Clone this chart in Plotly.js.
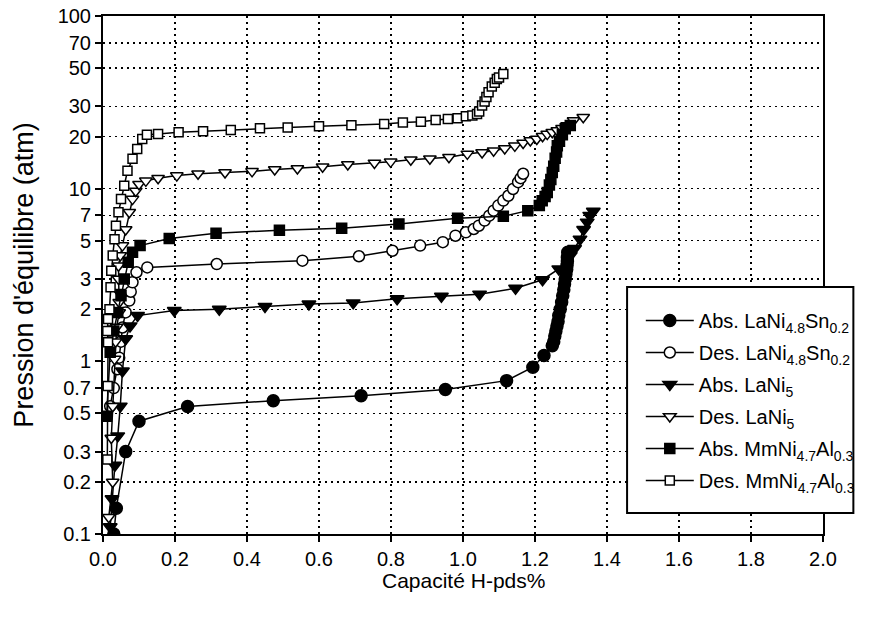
<!DOCTYPE html>
<html>
<head>
<meta charset="utf-8">
<script src="https://cdn.plot.ly/plotly-3.0.1.min.js"></script>
<style>html,body{margin:0;padding:0;background:#fff;}#chart{width:872px;height:622px;}</style>
</head>
<body>
<div id="chart"></div>
<script>
// Series names
const names = [
  'Abs. LaNi<sub>4.8</sub>Sn<sub>0.2</sub>',
  'Des. LaNi<sub>4.8</sub>Sn<sub>0.2</sub>',
  'Abs. LaNi<sub>5</sub>',
  'Des. LaNi<sub>5</sub>',
  'Abs. MmNi<sub>4.7</sub>Al<sub>0.3</sub>',
  'Des. MmNi<sub>4.7</sub>Al<sub>0.3</sub>'
];

// Abs. LaNi4.8Sn0.2
const absSn_x = [0.03, 0.037, 0.063, 0.10, 0.235, 0.473, 0.717, 0.951, 1.121, 1.194, 1.225, 1.248, 1.252, 1.255, 1.258, 1.261, 1.264, 1.266, 1.27, 1.274, 1.277, 1.28, 1.282, 1.284, 1.286, 1.288, 1.289, 1.29, 1.29, 1.291];
const absSn_y = [0.10, 0.141, 0.30, 0.45, 0.547, 0.592, 0.632, 0.686, 0.773, 0.925, 1.08, 1.23, 1.3, 1.4, 1.5, 1.6, 1.7, 1.84, 2.0, 2.2, 2.4, 2.6, 2.8, 3.0, 3.2, 3.4, 3.6, 3.8, 4.0, 4.28];

// Des. LaNi4.8Sn0.2
const desSn_x = [0.02, 0.03, 0.04, 0.045, 0.05, 0.054, 0.063, 0.073, 0.077, 0.082, 0.093, 0.123, 0.316, 0.554, 0.711, 0.804, 0.881, 0.944, 0.979, 1.008, 1.030, 1.044, 1.06, 1.073, 1.085, 1.098, 1.112, 1.126, 1.139, 1.153, 1.160, 1.167];
const desSn_y = [0.55, 0.7, 0.9, 1.05, 1.3, 1.57, 1.92, 2.25, 2.53, 2.87, 3.28, 3.5, 3.66, 3.83, 4.06, 4.37, 4.68, 4.9, 5.34, 5.59, 5.84, 6.1, 6.53, 6.98, 7.46, 7.98, 8.53, 9.1, 9.96, 10.9, 11.5, 12.2];

// Abs. LaNi5
const absLa5_x = [0.02, 0.025, 0.033, 0.041, 0.048, 0.054, 0.063, 0.075, 0.096, 0.198, 0.323, 0.45, 0.572, 0.695, 0.817, 0.94, 1.046, 1.146, 1.221, 1.266, 1.298, 1.31, 1.325, 1.335, 1.345, 1.352, 1.362];
const absLa5_y = [0.11, 0.16, 0.25, 0.37, 0.55, 0.88, 1.35, 1.6, 1.84, 1.97, 2.0, 2.08, 2.15, 2.18, 2.30, 2.38, 2.45, 2.65, 2.97, 3.43, 4.1, 4.5, 5.1, 5.8, 6.4, 7.0, 7.4];

// Des. LaNi5
const desLa5_x = [0.016, 0.027, 0.023, 0.027, 0.032, 0.035, 0.038, 0.045, 0.045, 0.045, 0.043, 0.043, 0.048, 0.054, 0.063, 0.073, 0.082, 0.091, 0.1, 0.119, 0.153, 0.205, 0.264, 0.339, 0.414, 0.477, 0.54, 0.61, 0.68, 0.754, 0.799, 0.855, 0.908, 0.961, 1.012, 1.053, 1.085, 1.116, 1.144, 1.167, 1.187, 1.205, 1.221, 1.234, 1.248, 1.262, 1.275, 1.289, 1.307, 1.334];
const desLa5_y = [0.125, 0.20, 0.36, 0.55, 1.03, 1.3, 1.58, 1.92, 2.2, 2.51, 3.0, 3.58, 4.1, 4.68, 5.8, 7.3, 8.7, 9.7, 10.6, 11.1, 11.5, 11.9, 12.2, 12.4, 12.6, 12.9, 13.1, 13.4, 13.8, 14.1, 14.3, 14.7, 14.9, 15.2, 15.9, 16.2, 16.6, 17.1, 17.7, 18.4, 19.0, 19.4, 20.1, 20.7, 21.2, 21.7, 22.4, 23.2, 24.8, 25.9];

// Abs. MmNi4.7Al0.3
const absMm_x = [0.01, 0.02, 0.03, 0.041, 0.05, 0.059, 0.07, 0.082, 0.103, 0.184, 0.314, 0.49, 0.663, 0.822, 0.985, 1.112, 1.18, 1.212, 1.22, 1.228, 1.234, 1.24, 1.244, 1.248, 1.252, 1.256, 1.26, 1.262, 1.268, 1.276, 1.284, 1.298];
const absMm_y = [0.48, 1.13, 1.5, 1.92, 2.4, 3.0, 3.75, 4.28, 4.68, 5.15, 5.52, 5.75, 5.9, 6.25, 6.73, 6.92, 7.46, 7.98, 8.5, 9.0, 9.5, 10.5, 11.3, 12.4, 13.5, 15.0, 16.3, 17.7, 18.8, 20.5, 22.2, 23.2];

// Des. MmNi4.7Al0.3
const desMm_x = [0.012, 0.013, 0.014, 0.012, 0.014, 0.018, 0.021, 0.023, 0.027, 0.032, 0.036, 0.043, 0.05, 0.059, 0.068, 0.082, 0.095, 0.109, 0.122, 0.153, 0.21, 0.278, 0.355, 0.436, 0.513, 0.60, 0.69, 0.781, 0.833, 0.883, 0.924, 0.958, 0.985, 1.008, 1.026, 1.039, 1.045, 1.053, 1.06, 1.065, 1.071, 1.08, 1.088, 1.094, 1.10, 1.112];
const desMm_y = [0.27, 0.72, 1.29, 1.5, 1.76, 2.0, 2.69, 3.35, 4.1, 5.1, 6.1, 7.3, 8.7, 10.4, 12.7, 14.9, 17.0, 19.4, 20.5, 20.7, 21.2, 21.5, 21.9, 22.4, 22.6, 23.0, 23.3, 23.7, 24.2, 24.4, 25.0, 25.3, 25.6, 26.3, 26.5, 27.1, 28.0, 30.3, 32.0, 34.0, 36.2, 39.0, 41.0, 43.2, 44.0, 46.1];

// Axis ticks
const xTicks = [0.0, 0.2, 0.4, 0.6, 0.8, 1.0, 1.2, 1.4, 1.6, 1.8, 2.0];
const yTicks = [0.1, 0.2, 0.3, 0.5, 0.7, 1, 2, 3, 5, 7, 10, 20, 30, 50, 70, 100];
const yTickText = ['0.1', '0.2', '0.3', '0.5', '0.7', '1', '2', '3', '5', '7', '10', '20', '30', '50', '70', '100'];

const FONT = '"Liberation Sans", Arial, sans-serif';

function mk(x, y, name, symbol, filled, size, i) {
  return {
    x: x, y: y, name: name, type: 'scatter', mode: 'lines+markers',
    legendgroup: 'g' + i,
    line: {color: '#000', width: 1.5},
    marker: {symbol: symbol, size: size, color: filled ? '#000' : '#fff',
             line: {color: '#000', width: 1.5}},
    cliponaxis: true
  };
}

const traces = [
  mk(absSn_x, absSn_y, names[0], 'circle', true, 12, 0),
  mk(desSn_x, desSn_y, names[1], 'circle', false, 11, 1),
  mk(absLa5_x, absLa5_y, names[2], 'triangle-down', true, 12, 2),
  mk(desLa5_x, desLa5_y, names[3], 'triangle-down', false, 11, 3),
  mk(absMm_x, absMm_y, names[4], 'square', true, 10, 4),
  mk(desMm_x, desMm_y, names[5], 'square', false, 9, 5)
];

// plot area in px
const L = 103, R = 838, T = 16, B = 534;
const px2x = p => (p - L) / (R - L);
const px2y = p => (B - p) / (B - T);

const layout = {
  width: 872, height: 622,
  margin: {l: L, r: 872 - R, t: T, b: 622 - B},
  paper_bgcolor: '#fff', plot_bgcolor: '#fff',
  font: {family: FONT, color: '#000', size: 20},
  showlegend: true,
  legend: {
    x: px2x(652), y: px2y(301), xanchor: 'left', yanchor: 'top',
    bgcolor: 'rgba(0,0,0,0)', borderwidth: 0,
    font: {family: FONT, size: 20, color: '#000'},
    itemwidth: 48, tracegroupgap: 3, traceorder: 'grouped'
  },
  shapes: [{
    type: 'rect', xref: 'paper', yref: 'paper', layer: 'above',
    x0: px2x(638), x1: px2x(869), y0: px2y(513), y1: px2y(287),
    fillcolor: '#fff', line: {color: '#000', width: 2}
  }],
  annotations: [{
    text: 'Capacité H-pds%', xref: 'paper', yref: 'paper',
    x: 0.5, y: px2y(580), xanchor: 'center', yanchor: 'middle',
    showarrow: false, font: {family: FONT, size: 21, color: '#000'}
  }],
  xaxis: {
    range: [0, 2], tickvals: xTicks, ticktext: xTicks.map(v => v.toFixed(1)),
    ticks: 'outside', ticklen: 6, tickwidth: 2, tickcolor: '#000',
    showline: true, linecolor: '#000', linewidth: 2, mirror: true,
    showgrid: true, gridcolor: '#000', gridwidth: 1.5, griddash: '2px,4px',
    zeroline: false,
    tickfont: {family: FONT, size: 20}
  },
  yaxis: {
    type: 'log', range: [-1, 2], tickvals: yTicks, ticktext: yTickText,
    ticks: 'outside', ticklen: 6, tickwidth: 2, tickcolor: '#000',
    showline: true, linecolor: '#000', linewidth: 2, mirror: true,
    showgrid: true, gridcolor: '#000', gridwidth: 1.5, griddash: '2px,4px',
    zeroline: false,
    tickfont: {family: FONT, size: 20},
    title: {text: "Pression d'équilibre (atm)", font: {family: FONT, size: 27}, standoff: 16}
  }
};

Plotly.newPlot('chart', traces, layout, {displayModeBar: false, staticPlot: true});
</script>
</body>
</html>
